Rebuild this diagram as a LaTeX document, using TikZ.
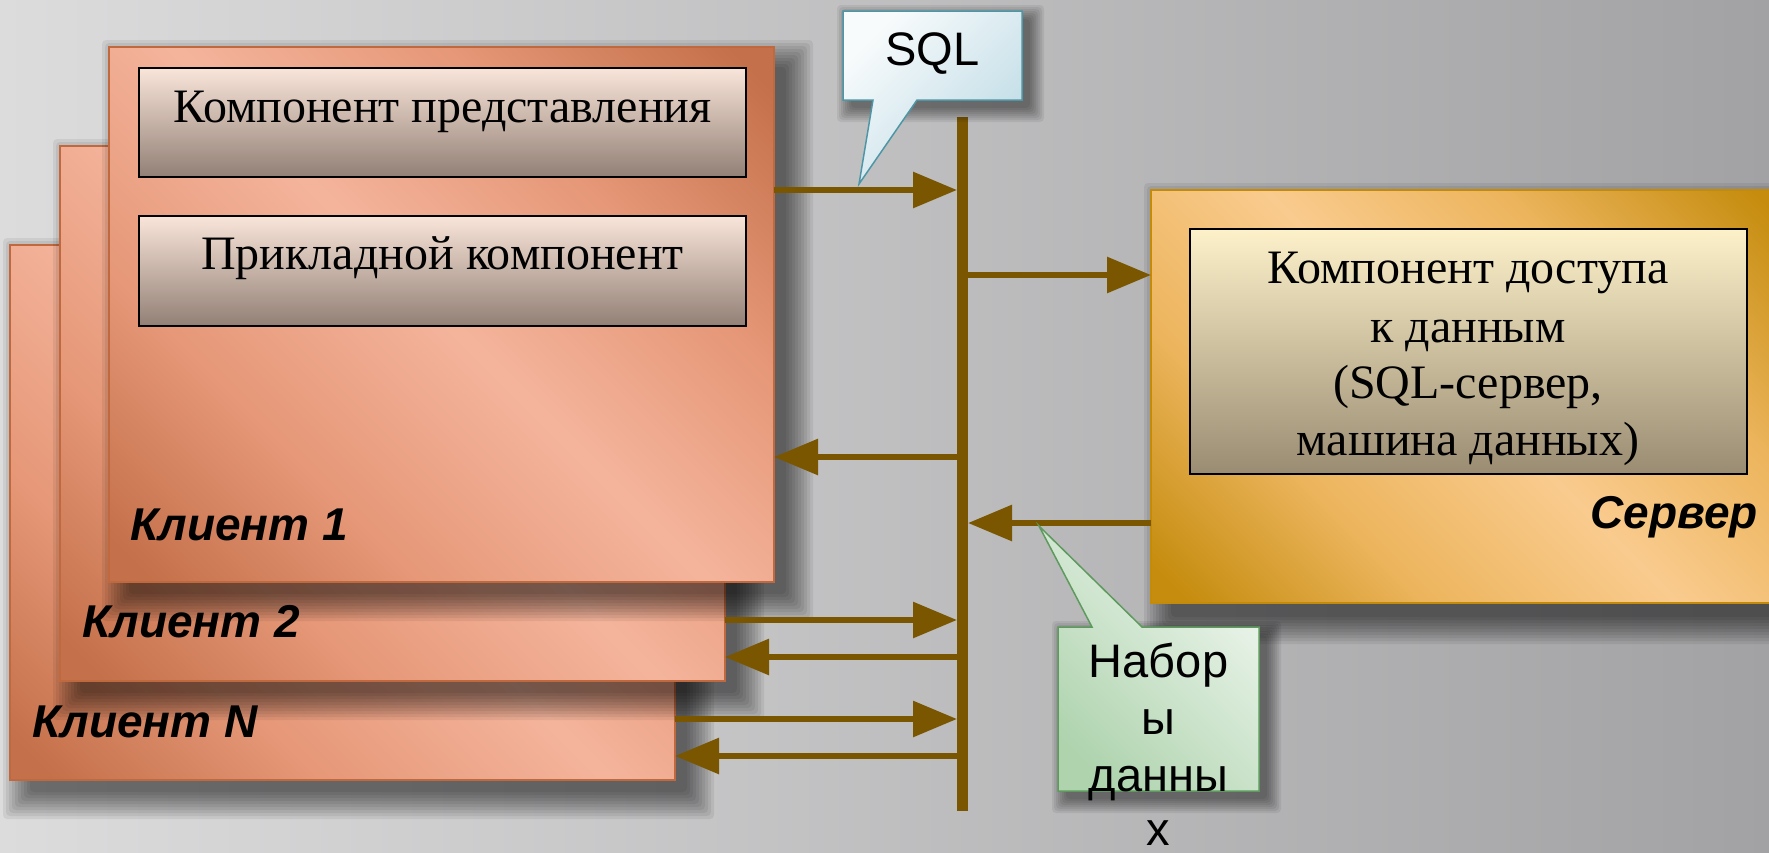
\documentclass[tikz,border=0pt]{standalone}
\usepackage{fontspec}
\setmainfont{Liberation Serif}
\setsansfont{Liberation Sans}
\usetikzlibrary{arrows.meta,calc}

\definecolor{bgL}{HTML}{DCDCDD}
\definecolor{bgR}{HTML}{A2A2A4}
\definecolor{busc}{HTML}{7A5600}
\definecolor{cD}{HTML}{C4704A}
\definecolor{cM}{HTML}{E69878}
\definecolor{cL}{HTML}{F4B49C}
\definecolor{cEdge}{HTML}{C0683E}
\definecolor{sD}{HTML}{C58C0E}
\definecolor{sM}{HTML}{ECB45C}
\definecolor{sL}{HTML}{F9CB8E}
\definecolor{sEdge}{HTML}{C48A0A}
\definecolor{pTop}{HTML}{F9E5D9}
\definecolor{pBot}{HTML}{927F75}
\definecolor{dTop}{HTML}{FDF1CA}
\definecolor{dBot}{HTML}{9A8C72}
\definecolor{qL}{HTML}{F8FBFC}
\definecolor{qD}{HTML}{BEDBE5}
\definecolor{qEdge}{HTML}{4E96A6}
\definecolor{gL}{HTML}{EEF6EE}
\definecolor{gD}{HTML}{AED3AD}
\definecolor{gEdge}{HTML}{5E9A5E}

\pgfdeclarehorizontalshading{clientsh}{100bp}{color(0bp)=(cD); color(17bp)=(cD); color(33bp)=(cM); color(50bp)=(cL); color(66bp)=(cM); color(83bp)=(cD); color(100bp)=(cD)}
\pgfdeclarehorizontalshading{serversh}{100bp}{color(0bp)=(sD); color(17bp)=(sD); color(33bp)=(sM); color(50bp)=(sL); color(66bp)=(sM); color(83bp)=(sD); color(100bp)=(sD)}

% soft shadow: core rectangle x1 y1 x2 y2, growth per layer, number of layers
\newcommand\softshadow[6]{%
  \foreach \k in {0,...,#6}{%
    \fill[black, opacity=0.065, rounded corners=4pt]
      ({#1-#5*\k},{#2-#5*\k}) rectangle ({#3+#5*\k},{#4+#5*\k});
  }}

\begin{document}
\begin{tikzpicture}[x=1pt, y=-1pt,
  client/.style={shade, shading=clientsh, shading angle=45, draw=cEdge,
    line width=1.5pt, inner sep=0pt, outer sep=0pt,
    minimum width=665pt, minimum height=535pt, anchor=north west},
  panel/.style={top color=pTop, bottom color=pBot, draw=black,
    line width=2pt, inner sep=0pt, outer sep=0pt,
    minimum width=607pt, minimum height=109pt, anchor=north west},
  srvbox/.style={shade, shading=serversh, shading angle=45, draw=sEdge,
    line width=1.5pt, inner sep=0pt, outer sep=0pt, anchor=north west},
  dpanel/.style={top color=dTop, bottom color=dBot, draw=black,
    line width=2pt, inner sep=0pt, outer sep=0pt, anchor=north west},
  bus/.style={fill=busc, inner sep=0pt, outer sep=0pt,
    minimum width=11pt, minimum height=694pt},
  arr/.style={draw=busc, line width=6pt, -{Triangle[length=44pt,width=35pt]}},
  serif/.style={font=\fontsize{48}{57}\selectfont, inner sep=0pt, anchor=base},
  tag/.style={font=\sffamily\bfseries\itshape\fontsize{46}{55}\selectfont, inner sep=0pt},
  plain/.style={font=\sffamily\fontsize{47}{56}\selectfont, inner sep=0pt, anchor=base},
]
\useasboundingbox (0,0) rectangle (1769,852);
\clip (0,0) rectangle (1769,852);
\shade[left color=bgL, right color=bgR] (0,0) rectangle (1769,852);

% --- client N ---
\softshadow{30}{265}{687}{792}{3}{9}
\node[client] (cN) at (10,245) {};
\node[tag, anchor=base west] (lN) at (32,737) {Клиент N};

% --- client 2 ---
\softshadow{80}{166}{737}{693}{3}{9}
\node[client] (c2) at (60,146) {};
\node[tag, anchor=base west] (l2) at (82,637) {Клиент 2};

% --- client 1 ---
\softshadow{129}{67}{786}{594}{3}{9}
\node[client] (c1) at (109,47) {};
\node[panel] (pres) at (139,68) {};
\node[serif] (tpres) at ($(pres.north)+(0,54)$) {Компонент представления};
\node[panel, minimum height=110pt] (app) at (139,216) {};
\node[serif] (tapp) at ($(app.north)+(0,53)$) {Прикладной компонент};
\node[tag, anchor=base west] (l1) at (130,540) {Клиент 1};

% --- server ---
\softshadow{1171}{210}{1800}{617}{3}{9}
\node[srvbox, minimum width=640pt, minimum height=413pt] (srv) at (1151,190) {};
\node[dpanel, minimum width=557pt, minimum height=245pt] (dac) at (1190,229) {};
\node[serif] (d1) at (1468,283) {Компонент доступа};
\node[serif] (d2) at (1468,342) {к данным};
\node[serif] (d3) at (1468,398) {(SQL-сервер,};
\node[serif] (d4) at (1468,455) {машина данных)};
\node[tag, anchor=base east] (lsrv) at (1758,528) {Сервер};

% --- bus and message arrows ---
\node[bus] (bus) at (962.5,464) {};
\coordinate (ya) at (0,190);
\coordinate (yb) at (0,275);
\coordinate (yc) at (0,457);
\coordinate (yd) at (0,523);
\coordinate (ye) at (0,620);
\coordinate (yf) at (0,657);
\coordinate (yg) at (0,719);
\coordinate (yh) at (0,756);
\draw[arr] (c1.east |- ya) -- (bus.west |- ya);
\draw[arr] (bus.east |- yb) -- (srv.west |- yb);
\draw[arr] (bus.west |- yc) -- (c1.east |- yc);
\draw[arr] (srv.west |- yd) -- (bus.east |- yd);
\draw[arr] (c2.east |- ye) -- (bus.west |- ye);
\draw[arr] (bus.west |- yf) -- (c2.east |- yf);
\draw[arr] (cN.east |- yg) -- (bus.west |- yg);
\draw[arr] (bus.west |- yh) -- (cN.east |- yh);

% --- SQL callout ---
\coordinate (sqltip) at (859,184);
\softshadow{851}{19}{1030}{108}{2}{7}
\shade[top color=qL, bottom color=qD, shading angle=45, draw=qEdge, line width=1.5pt]
  (843,11) -- (1022,11) -- (1022,100) -- (917,100) -- (sqltip) -- (873,100) -- (843,100) -- cycle;
\node[plain] (sql) at (932.5,65) {SQL};

% --- result-set callout ---
\coordinate (datatip) at (1039,526);
\softshadow{1066}{635}{1267}{799}{2}{7}
\shade[top color=gL, bottom color=gD, shading angle=-45, draw=gEdge, line width=1.5pt]
  (1058,627) -- (1092,627) -- (datatip) -- (1142,627) -- (1259,627) -- (1259,791) -- (1058,791) -- cycle;
\node[plain] (n1) at (1158.5,677) {Набор};
\node[plain] (n2) at (1158.5,734) {ы};
\node[plain] (n3) at (1158.5,791) {данны};
\node[plain] (n4) at (1158.5,845) {х};
\end{tikzpicture}
\end{document}
